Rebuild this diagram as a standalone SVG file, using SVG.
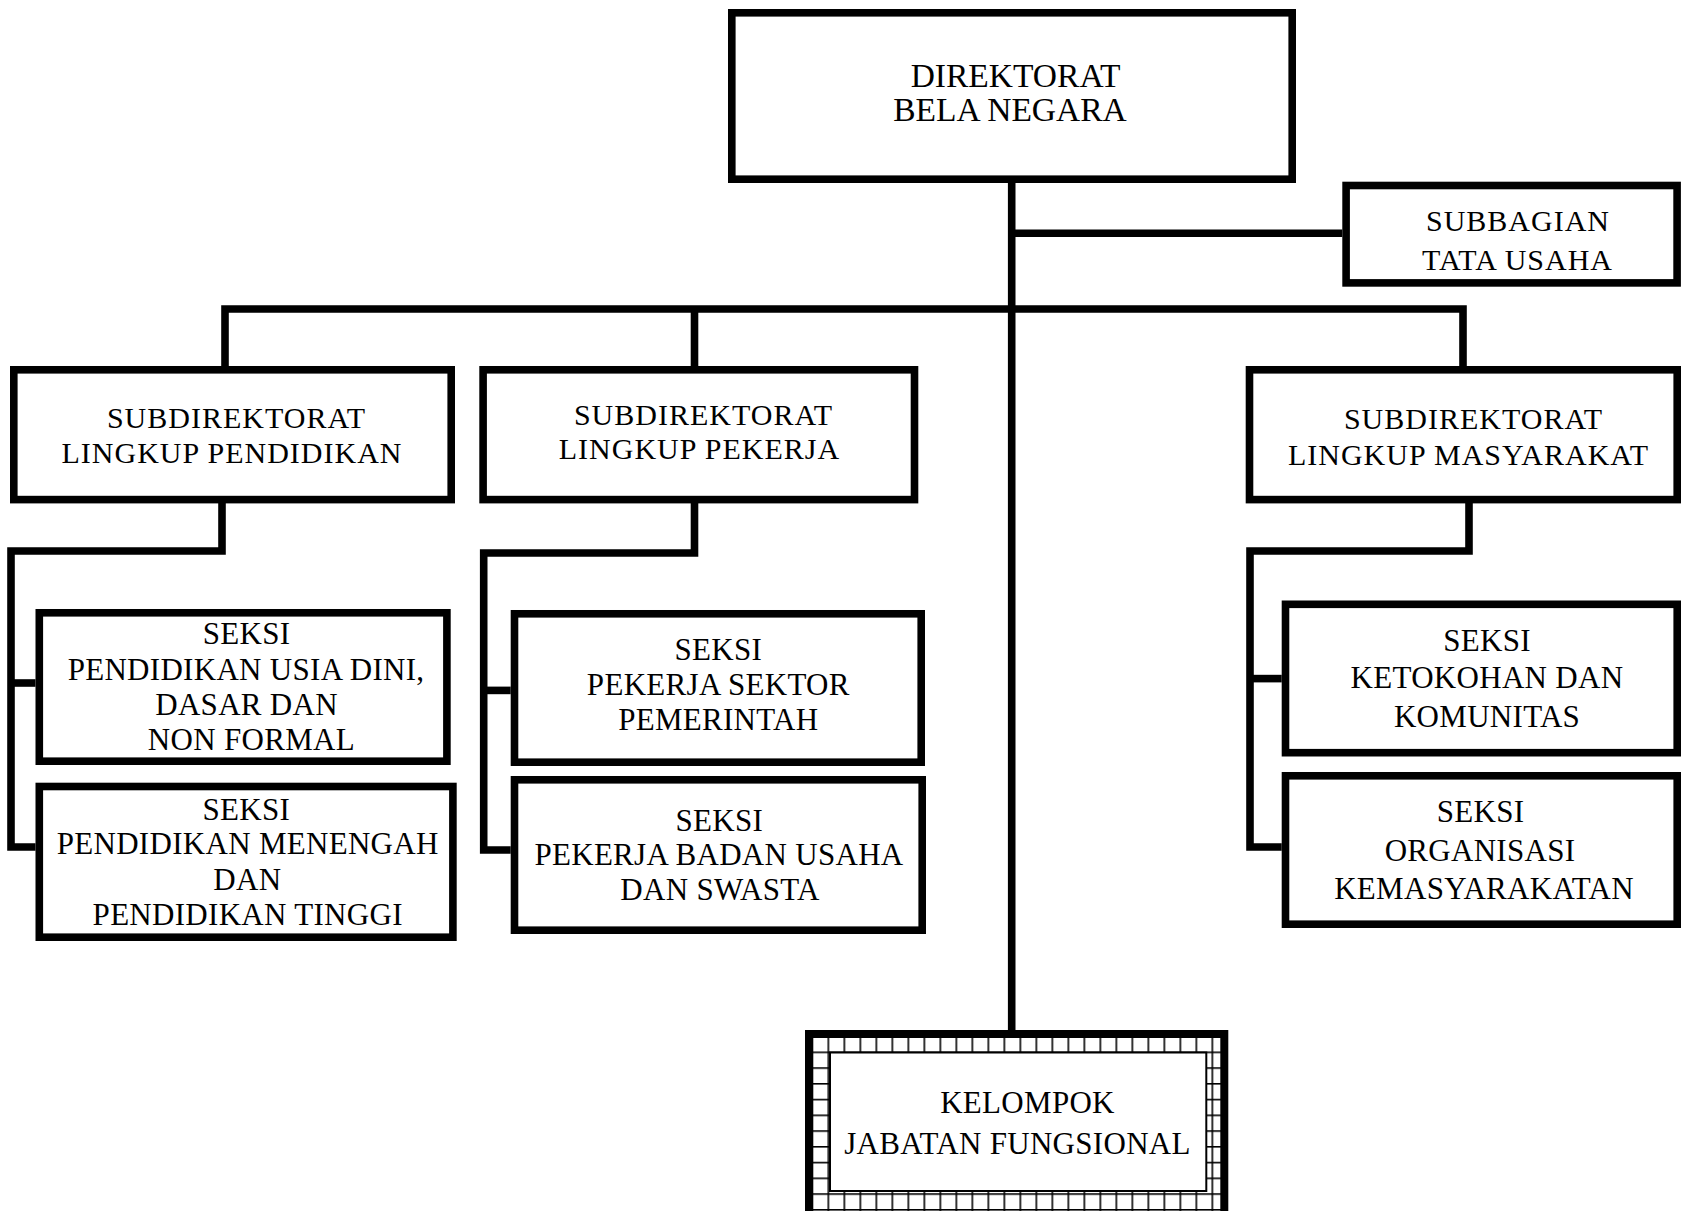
<svg xmlns="http://www.w3.org/2000/svg" width="1681" height="1211" viewBox="0 0 1681 1211">
  <style>
    .box { fill: #fff; stroke: #000; stroke-width: 7.6; }
    .link { fill: none; stroke: #000; stroke-width: 7.6; stroke-linejoin: miter; stroke-linecap: butt; }
    text { font-family: "Liberation Serif", "Times New Roman", serif; fill: #000; text-anchor: middle; }
    .t-top { font-size: 33.5px; }
    .t-sub { font-size: 30px; letter-spacing: 1px; }
    .t-sek { font-size: 31px; letter-spacing: 0.3px; }
  </style>
  <defs>
    <!-- checkered band of the functional-group frame -->
    <pattern id="checker" patternUnits="userSpaceOnUse" x="811.5" y="1035.75" width="16" height="15.75">
      <rect width="16" height="15.75" fill="#000"/>
      <rect x="1.6" y="1.6" width="14.4" height="14.15" fill="#fff"/>
    </pattern>
  </defs>

  <rect width="1681" height="1211" fill="#fff"/>

  <g id="connectors">
    <path class="link" d="M1011.7 183 V1030"/>
    <path class="link" d="M1011.7 233.3 H1342.3"/>
    <path class="link" d="M225 366 V309 H1463 V366"/>
    <path class="link" d="M694.5 309 V366"/>
    <path class="link" d="M222 503 V551 H11 V847 H35.5"/>
    <path class="link" d="M11 683 H35.5"/>
    <path class="link" d="M694.5 503 V553 H483.7 V850 H510.7"/>
    <path class="link" d="M483.7 690.4 H510.7"/>
    <path class="link" d="M1469 503 V551 H1250 V847 H1281.7"/>
    <path class="link" d="M1250 678.6 H1281.7"/>
  </g>

  <g id="direktorat">
    <rect class="box" x="731.8" y="12.8" width="560.4" height="166.4"/>
    <text class="t-top" x="1015.5" y="87">DIREKTORAT</text>
    <text class="t-top" x="1010" y="120.5">BELA NEGARA</text>
  </g>

  <g id="subbagian-tu">
    <rect class="box" x="1346.1" y="185.5" width="331" height="97.4"/>
    <text class="t-sub" x="1518" y="231">SUBBAGIAN</text>
    <text class="t-sub" x="1517.5" y="269.5">TATA USAHA</text>
  </g>

  <g id="subdit-pendidikan">
    <rect class="box" x="13.8" y="369.8" width="437.4" height="129.8"/>
    <text class="t-sub" x="236.5" y="428">SUBDIREKTORAT</text>
    <text class="t-sub" x="232" y="462.5">LINGKUP PENDIDIKAN</text>
  </g>

  <g id="subdit-pekerja">
    <rect class="box" x="483.1" y="369.8" width="431.4" height="129.8"/>
    <text class="t-sub" x="703.5" y="425">SUBDIREKTORAT</text>
    <text class="t-sub" x="699.5" y="459">LINGKUP PEKERJA</text>
  </g>

  <g id="subdit-masyarakat">
    <rect class="box" x="1249.5" y="369.8" width="427.7" height="129.8"/>
    <text class="t-sub" x="1473.5" y="429">SUBDIREKTORAT</text>
    <text class="t-sub" x="1468.5" y="464.5">LINGKUP MASYARAKAT</text>
  </g>

  <g id="seksi-pud">
    <rect class="box" x="39.3" y="612.8" width="407.6" height="148.4"/>
    <text class="t-sek" x="246.6" y="644">SEKSI</text>
    <text class="t-sek" x="246" y="679.5">PENDIDIKAN USIA DINI,</text>
    <text class="t-sek" x="246.6" y="715">DASAR DAN</text>
    <text class="t-sek" x="251.4" y="750">NON FORMAL</text>
  </g>

  <g id="seksi-pmt">
    <rect class="box" x="39.3" y="786.5" width="413.6" height="150.7"/>
    <text class="t-sek" x="246.4" y="820">SEKSI</text>
    <text class="t-sek" x="247.7" y="854">PENDIDIKAN MENENGAH</text>
    <text class="t-sek" x="247.3" y="889.5">DAN</text>
    <text class="t-sek" x="247.7" y="925">PENDIDIKAN TINGGI</text>
  </g>

  <g id="seksi-psp">
    <rect class="box" x="514.5" y="613.8" width="406.7" height="148.4"/>
    <text class="t-sek" x="718.3" y="660">SEKSI</text>
    <text class="t-sek" x="718.3" y="694.5">PEKERJA SEKTOR</text>
    <text class="t-sek" x="718.3" y="730">PEMERINTAH</text>
  </g>

  <g id="seksi-pbus">
    <rect class="box" x="514.5" y="779.8" width="407.7" height="150.4"/>
    <text class="t-sek" x="719.4" y="830.5">SEKSI</text>
    <text class="t-sek" x="719" y="865">PEKERJA BADAN USAHA</text>
    <text class="t-sek" x="720" y="900">DAN SWASTA</text>
  </g>

  <g id="seksi-kdk">
    <rect class="box" x="1285.5" y="604.3" width="391.7" height="148.4"/>
    <text class="t-sek" x="1487" y="650.5">SEKSI</text>
    <text class="t-sek" x="1487" y="688">KETOKOHAN DAN</text>
    <text class="t-sek" x="1487" y="726.5">KOMUNITAS</text>
  </g>

  <g id="seksi-ok">
    <rect class="box" x="1285.5" y="775.8" width="391.7" height="148.4"/>
    <text class="t-sek" x="1480.6" y="822">SEKSI</text>
    <text class="t-sek" x="1480" y="860.5">ORGANISASI</text>
    <text class="t-sek" x="1484" y="899">KEMASYARAKATAN</text>
  </g>

  <g id="kelompok-jf">
    <rect x="811" y="1035" width="412" height="190" fill="url(#checker)"/>
    <rect x="830" y="1052.5" width="376.3" height="138.5" fill="#fff" stroke="#000" stroke-width="2"/>
    <rect x="809" y="1034" width="415.3" height="200" fill="none" stroke="#000" stroke-width="8"/>
    <text class="t-sek" x="1027.5" y="1112.5">KELOMPOK</text>
    <text class="t-sek" x="1017.5" y="1154">JABATAN FUNGSIONAL</text>
  </g>
</svg>
